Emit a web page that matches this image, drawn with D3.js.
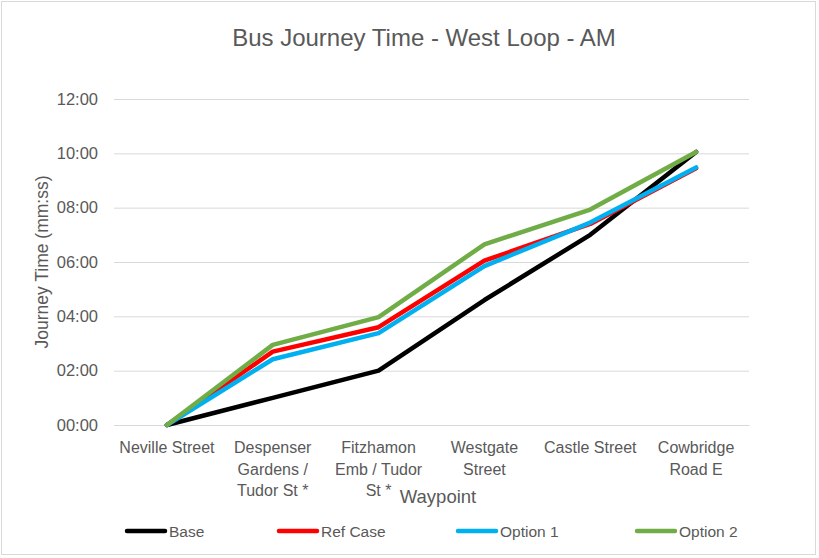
<!DOCTYPE html>
<html>
<head>
<meta charset="utf-8">
<script src="https://cdn.jsdelivr.net/npm/d3@7"></script>
<style>
  body { margin: 0; background: #fff; }
  svg text { font-family: 'Liberation Sans', Arial, sans-serif; fill: #595959; }
</style>
</head>
<body>
<div id="chart"></div>
<script>
// waypoints along the route (line breaks as in the original chart)
const waypoints = ['Neville Street', 'Despenser Gardens / Tudor St *', 'Fitzhamon Emb / Tudor St *', 'Westgate Street', 'Castle Street', 'Cowbridge Road E'];
const waypointLines = [
  ['Neville Street'],
  ['Despenser', 'Gardens /', 'Tudor St *'],
  ['Fitzhamon', 'Emb / Tudor', 'St *'],
  ['Westgate', 'Street'],
  ['Castle Street'],
  ['Cowbridge', 'Road E']
];

// journey times in minutes
const base    = [0, 1.00, 2.00, 4.60, 7.00, 10.05];
const refCase = [0, 2.70, 3.60, 6.05, 7.40, 9.45];
const option1 = [0, 2.42, 3.38, 5.85, 7.45, 9.48];
const option2 = [0, 2.95, 3.97, 6.65, 7.93, 10.05];

const seriesNames  = ['Base', 'Ref Case', 'Option 1', 'Option 2'];
const seriesColors = ['#000000', '#ff0000', '#00b0f0', '#70ad47'];
const yTicks = [0, 2, 4, 6, 8, 10, 12];

const series = [base, refCase, option1, option2].map((vals, i) => ({
  name: seriesNames[i], color: seriesColors[i], values: vals
}));

const svgWidth = 819;
const svgHeight = 558;

const svg = d3.select('#chart')
  .append('svg')
  .attr('width', svgWidth)
  .attr('height', svgHeight);

// outer border
svg.append('rect')
  .attr('x', 1.5).attr('y', 1.5)
  .attr('width', svgWidth - 5).attr('height', svgHeight - 5)
  .attr('fill', '#fff').attr('stroke', '#d9d9d9');

const x = d3.scalePoint()
  .domain(waypoints)
  .range([114, 749])
  .padding(0.5);

const y = d3.scaleLinear()
  .domain([0, 12])
  .range([425, 99]);

const fmt = m => String(Math.floor(m)).padStart(2, '0') + ':' + String(Math.round((m % 1) * 60)).padStart(2, '0');

// gridlines + y labels
const yAxis = svg.append('g')
  .attr('transform', 'translate(114,0)')
  .call(d3.axisLeft(y).tickValues(yTicks).tickFormat(fmt).tickSize(-635).tickPadding(16));
yAxis.select('.domain').remove();
yAxis.selectAll('line').attr('stroke', '#d9d9d9').attr('stroke-width', 1);
yAxis.selectAll('text').style('font-size', '16.5px').attr('fill', '#595959');

// x labels
const xAxis = svg.append('g')
  .attr('transform', 'translate(0,425)')
  .call(d3.axisBottom(x).tickSize(0).tickFormat(''));
xAxis.select('.domain').attr('stroke', '#d9d9d9');

svg.append('g').selectAll('text')
  .data(waypoints)
  .join('text')
  .attr('x', d => x(d))
  .attr('y', 453)
  .attr('text-anchor', 'middle')
  .style('font-size', '16px')
  .each(function(d, i) {
    d3.select(this).selectAll('tspan')
      .data(waypointLines[i])
      .join('tspan')
      .attr('x', x(d))
      .attr('dy', (t, j) => j === 0 ? 0 : 21.5)
      .text(t => t);
  });

// lines
const line = d3.line()
  .x((d, i) => x(waypoints[i]))
  .y(d => y(d));

svg.append('g').selectAll('path')
  .data(series)
  .join('path')
  .attr('d', d => line(d.values))
  .attr('fill', 'none')
  .attr('stroke', d => d.color)
  .attr('stroke-width', 4.5)
  .attr('stroke-linejoin', 'round')
  .attr('stroke-linecap', 'round');

// title
svg.append('text')
  .attr('x', 424)
  .attr('y', 46)
  .attr('text-anchor', 'middle')
  .style('font-size', '24px')
  .text('Bus Journey Time - West Loop - AM');

// axis titles
svg.append('text')
  .attr('transform', 'rotate(-90)')
  .attr('x', -262)
  .attr('y', 48)
  .attr('text-anchor', 'middle')
  .style('font-size', '17.5px')
  .text('Journey Time (mm:ss)');

svg.append('text')
  .attr('x', 438)
  .attr('y', 503)
  .attr('text-anchor', 'middle')
  .style('font-size', '18.5px')
  .text('Waypoint');

// legend
const legendX = [127, 279, 458, 637];
const legend = svg.append('g').selectAll('g')
  .data(series)
  .join('g')
  .attr('transform', (d, i) => `translate(${legendX[i]},531)`);

legend.append('line')
  .attr('x1', 0).attr('x2', 38)
  .attr('stroke', d => d.color)
  .attr('stroke-width', 4.5)
  .attr('stroke-linecap', 'round');

legend.append('text')
  .attr('x', 42)
  .attr('y', 5.5)
  .style('font-size', '15.5px')
  .text(d => d.name);
</script>
</body>
</html>
